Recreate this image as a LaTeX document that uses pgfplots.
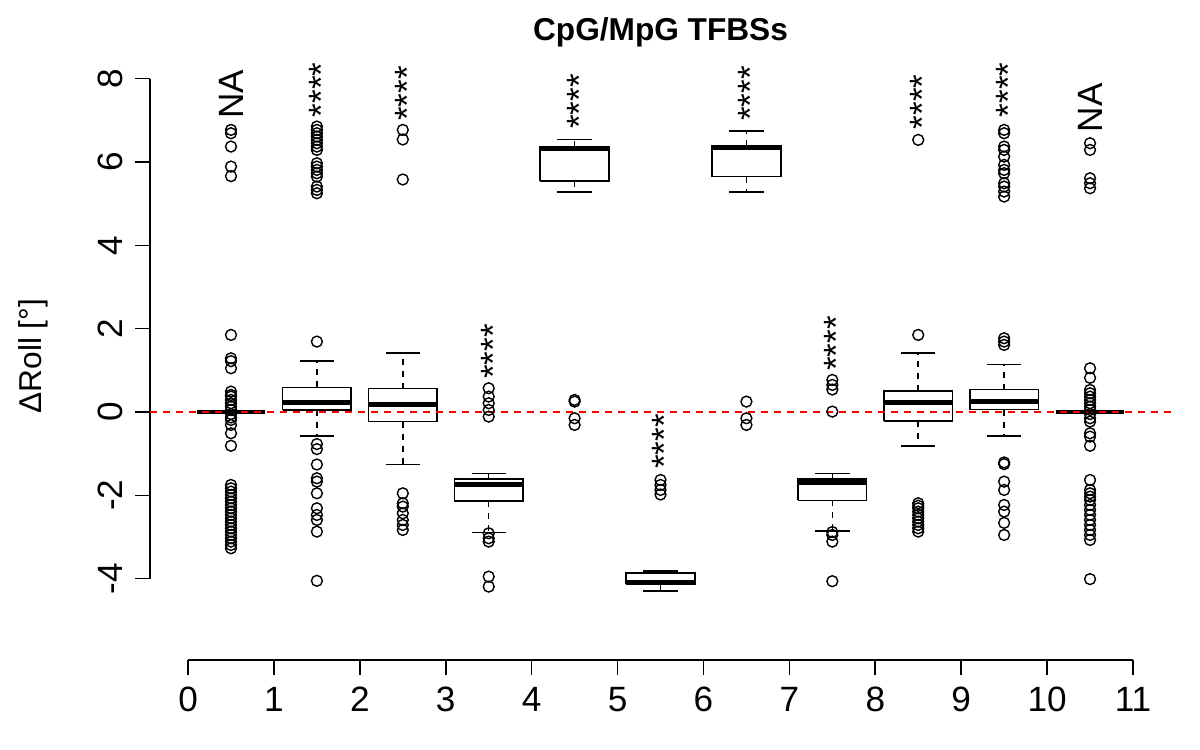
\documentclass[border=0pt]{standalone}
\usepackage{fontspec}
\setmainfont{Liberation Sans}
\usepackage{pgfplots}
\pgfplotsset{compat=1.18}
\begin{document}
\begin{tikzpicture}
\begin{axis}[
 x=0.859cm, y=0.4167cm,
 xmin=-0.44, xmax=11.44, ymin=-5.95, ymax=8.64,
 axis line style={draw=none},
 clip=false,
 xtick={0,1,2,3,4,5,6,7,8,9,10,11},
 xticklabels={0,1,2,3,4,5,6,7,8,9,10,11},
 ytick={-4,-2,0,2,4,6,8},
 yticklabels={-4,-2,0,2,4,6,8},
 xtick pos=bottom, ytick pos=left,
 tick align=outside, major tick length=0.15cm,
 tick style={black, line width=0.45pt},
 ticklabel style={font=\fontsize{10}{12}\selectfont},
 yticklabel style={rotate=90, anchor=south},
 unbounded coords=jump,
]
% full canvas
\path (axis cs:-2.189,-8.11) rectangle (axis cs:11.78,9.887);
% axis lines
\addplot[black, line width=0.45pt] coordinates {(0,-5.95)(11,-5.95)};
\addplot[black, line width=0.45pt] coordinates {(-0.44,-4)(-0.44,8)};
% boxes
\addplot[black, line width=0.45pt] coordinates {
(0.1,0)(0.9,0) (0.5,nan)
(1.1,0.05)(1.9,0.05)(1.9,0.59)(1.1,0.59)(1.1,0.05) (1.5,nan)
(2.1,-0.23)(2.9,-0.23)(2.9,0.56)(2.1,0.56)(2.1,-0.23) (2.5,nan)
(3.1,-2.14)(3.9,-2.14)(3.9,-1.61)(3.1,-1.61)(3.1,-2.14) (3.5,nan)
(4.1,5.54)(4.9,5.54)(4.9,6.37)(4.1,6.37)(4.1,5.54) (4.5,nan)
(5.1,-4.13)(5.9,-4.13)(5.9,-3.87)(5.1,-3.87)(5.1,-4.13) (5.5,nan)
(6.1,5.65)(6.9,5.65)(6.9,6.38)(6.1,6.38)(6.1,5.65) (6.5,nan)
(7.1,-2.12)(7.9,-2.12)(7.9,-1.61)(7.1,-1.61)(7.1,-2.12) (7.5,nan)
(8.1,-0.21)(8.9,-0.21)(8.9,0.51)(8.1,0.51)(8.1,-0.21) (8.5,nan)
(9.1,0.06)(9.9,0.06)(9.9,0.54)(9.1,0.54)(9.1,0.06) (9.5,nan)
(10.1,0)(10.9,0)
};
% medians
\addplot[black, line width=1.4pt] coordinates {
(0.1,0)(0.9,0) (0.5,nan)
(1.1,0.22)(1.9,0.22) (1.5,nan)
(2.1,0.17)(2.9,0.17) (2.5,nan)
(3.1,-1.74)(3.9,-1.74) (3.5,nan)
(4.1,6.33)(4.9,6.33) (4.5,nan)
(5.1,-4.08)(5.9,-4.08) (5.5,nan)
(6.1,6.34)(6.9,6.34) (6.5,nan)
(7.1,-1.69)(7.9,-1.69) (7.5,nan)
(8.1,0.22)(8.9,0.22) (8.5,nan)
(9.1,0.26)(9.9,0.26) (9.5,nan)
(10.1,0)(10.9,0)
};
% whiskers
\addplot[black, line width=0.45pt, dash pattern=on 0.06cm off 0.06cm] coordinates {
(1.5,0.59)(1.5,1.22) (1.5,nan) (1.5,0.05)(1.5,-0.58) (1.5,nan)
(2.5,0.56)(2.5,1.42) (2.5,nan) (2.5,-0.23)(2.5,-1.26) (2.5,nan)
(3.5,-1.61)(3.5,-1.48) (3.5,nan) (3.5,-2.14)(3.5,-2.89) (3.5,nan)
(4.5,6.37)(4.5,6.54) (4.5,nan) (4.5,5.54)(4.5,5.28) (4.5,nan)
(5.5,-3.87)(5.5,-3.81) (5.5,nan) (5.5,-4.13)(5.5,-4.30) (5.5,nan)
(6.5,6.38)(6.5,6.74) (6.5,nan) (6.5,5.65)(6.5,5.28) (6.5,nan)
(7.5,-1.61)(7.5,-1.48) (7.5,nan) (7.5,-2.12)(7.5,-2.86) (7.5,nan)
(8.5,0.51)(8.5,1.42) (8.5,nan) (8.5,-0.21)(8.5,-0.81) (8.5,nan)
(9.5,0.54)(9.5,1.14) (9.5,nan) (9.5,0.06)(9.5,-0.58)
};
% staples
\addplot[black, line width=0.45pt] coordinates {
(1.3,1.22)(1.7,1.22) (1.5,nan) (1.3,-0.58)(1.7,-0.58) (1.5,nan)
(2.3,1.42)(2.7,1.42) (2.5,nan) (2.3,-1.26)(2.7,-1.26) (2.5,nan)
(3.3,-1.48)(3.7,-1.48) (3.5,nan) (3.3,-2.89)(3.7,-2.89) (3.5,nan)
(4.3,6.54)(4.7,6.54) (4.5,nan) (4.3,5.28)(4.7,5.28) (4.5,nan)
(5.3,-3.81)(5.7,-3.81) (5.5,nan) (5.3,-4.30)(5.7,-4.30) (5.5,nan)
(6.3,6.74)(6.7,6.74) (6.5,nan) (6.3,5.28)(6.7,5.28) (6.5,nan)
(7.3,-1.48)(7.7,-1.48) (7.5,nan) (7.3,-2.86)(7.7,-2.86) (7.5,nan)
(8.3,1.42)(8.7,1.42) (8.5,nan) (8.3,-0.81)(8.7,-0.81) (8.5,nan)
(9.3,1.14)(9.7,1.14) (9.5,nan) (9.3,-0.58)(9.7,-0.58)
};
% outliers
\addplot[only marks, mark=o, mark size=1.55pt, mark options={line width=0.4pt}, black] coordinates {
(0.5,6.77)(0.5,6.69)(0.5,6.37)(0.5,5.89)(0.5,5.66)
(0.5,1.85)(0.5,1.29)(0.5,1.22)(0.5,1.05)(0.5,0.49)(0.5,0.41)(0.5,0.37)(0.5,0.29)(0.5,0.21)(0.5,0.13)(0.5,0.05)(0.5,-0.05)(0.5,-0.13)(0.5,-0.19)(0.5,-0.31)(0.5,-0.51)(0.5,-0.81)
(0.5,-1.75)(0.5,-1.83)(0.5,-1.91)(0.5,-1.99)(0.5,-2.07)(0.5,-2.15)(0.5,-2.23)(0.5,-2.31)(0.5,-2.39)(0.5,-2.47)(0.5,-2.55)(0.5,-2.63)(0.5,-2.71)(0.5,-2.79)(0.5,-2.87)(0.5,-2.95)(0.5,-3.03)(0.5,-3.11)(0.5,-3.19)(0.5,-3.27)
(1.5,6.85)(1.5,6.77)(1.5,6.69)(1.5,6.61)(1.5,6.53)(1.5,6.45)(1.5,6.37)(1.5,6.29)(1.5,5.97)(1.5,5.89)(1.5,5.81)(1.5,5.73)(1.5,5.65)(1.5,5.41)(1.5,5.33)(1.5,5.25)
(1.5,1.69)(1.5,-0.77)(1.5,-0.89)(1.5,-1.26)(1.5,-1.59)(1.5,-1.67)(1.5,-1.95)(1.5,-2.31)(1.5,-2.47)(1.5,-2.59)(1.5,-2.87)(1.5,-4.05)
(2.5,6.77)(2.5,6.54)(2.5,5.58)
(2.5,-1.95)(2.5,-2.19)(2.5,-2.27)(2.5,-2.43)(2.5,-2.59)(2.5,-2.71)(2.5,-2.83)
(3.5,0.57)(3.5,0.37)(3.5,0.21)(3.5,0.05)(3.5,-0.11)(3.5,-2.91)(3.5,-3.03)(3.5,-3.11)(3.5,-3.95)(3.5,-4.19)
(4.5,0.29)(4.5,0.25)(4.5,-0.15)(4.5,-0.31)
(5.5,-1.63)(5.5,-1.75)(5.5,-1.87)(5.5,-1.98)
(6.5,0.25)(6.5,-0.15)(6.5,-0.31)
(7.5,0.77)(7.5,0.65)(7.5,0.54)(7.5,0.01)(7.5,-2.88)(7.5,-2.95)(7.5,-3.11)(7.5,-4.06)
(8.5,6.53)(8.5,1.85)(8.5,-2.19)(8.5,-2.25)(8.5,-2.31)(8.5,-2.39)(8.5,-2.47)(8.5,-2.55)(8.5,-2.63)(8.5,-2.71)(8.5,-2.79)(8.5,-2.87)
(9.5,6.77)(9.5,6.69)(9.5,6.37)(9.5,6.29)(9.5,6.13)(9.5,5.93)(9.5,5.81)(9.5,5.73)(9.5,5.49)(9.5,5.41)(9.5,5.29)(9.5,5.17)
(9.5,1.77)(9.5,1.69)(9.5,1.61)(9.5,-1.21)(9.5,-1.25)(9.5,-1.67)(9.5,-1.87)(9.5,-2.23)(9.5,-2.39)(9.5,-2.66)(9.5,-2.95)
(10.5,6.45)(10.5,6.29)(10.5,5.61)(10.5,5.49)(10.5,5.37)
(10.5,1.05)(10.5,0.82)(10.5,0.53)(10.5,0.45)(10.5,0.37)(10.5,0.29)(10.5,0.21)(10.5,0.13)(10.5,0.05)(10.5,-0.05)(10.5,-0.15)(10.5,-0.23)(10.5,-0.51)(10.5,-0.59)(10.5,-0.81)
(10.5,-1.63)(10.5,-1.87)(10.5,-1.95)(10.5,-2.03)(10.5,-2.11)(10.5,-2.23)(10.5,-2.35)(10.5,-2.47)(10.5,-2.59)(10.5,-2.71)(10.5,-2.83)(10.5,-2.95)(10.5,-3.07)(10.5,-4.01)
};
% reference line
\addplot[red, line width=0.45pt, dash pattern=on 0.07cm off 0.06cm] coordinates {(-0.44,0)(11.44,0)};
% significance labels
\begin{scope}[every node/.style={rotate=90, anchor=west, inner sep=0pt, font=\fontsize{10}{12}\selectfont}]
\node at (axis cs:0.5,7.02) {NA};
\node at (axis cs:1.55,7.06) {****};
\node at (axis cs:2.55,6.97) {****};
\node at (axis cs:3.55,0.78) {****};
\node at (axis cs:4.55,6.78) {****};
\node at (axis cs:5.55,-1.38) {****};
\node at (axis cs:6.55,6.97) {****};
\node at (axis cs:7.55,0.97) {****};
\node at (axis cs:8.55,6.77) {****};
\node at (axis cs:9.55,7.06) {****};
\node at (axis cs:10.5,6.70) {NA};
\end{scope}
\node[rotate=90, font=\fontsize{9}{11}\selectfont] at (axis cs:-1.80,1.34) {ΔRoll [°]};
\node[font=\bfseries\fontsize{9}{11}\selectfont] at (axis cs:5.5,9.1) {CpG/MpG TFBSs};
\end{axis}
\end{tikzpicture}
\end{document}
